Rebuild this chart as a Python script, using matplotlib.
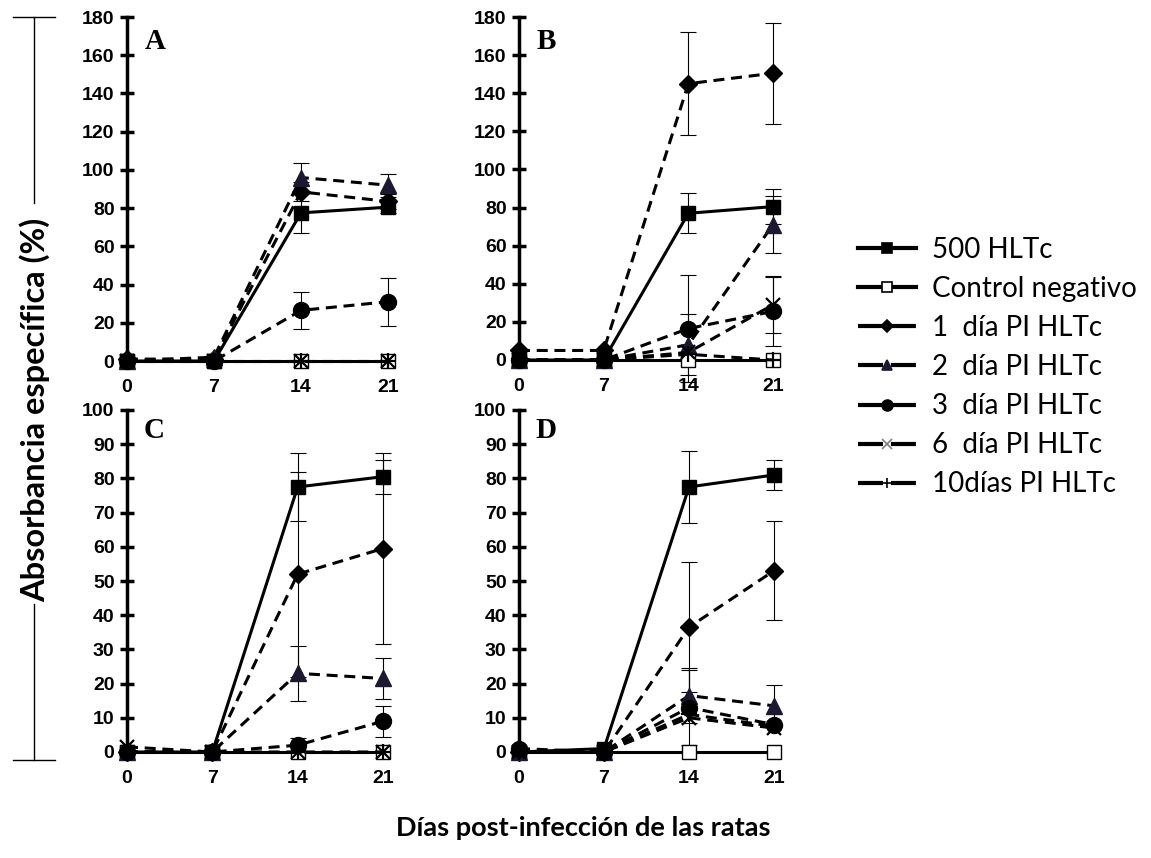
import numpy as np
import matplotlib
matplotlib.use("Agg")
import matplotlib.pyplot as plt
from matplotlib.lines import Line2D

# ---------------- data ----------------
days = [0, 7, 14, 21]
series_names = ["500 HLTc", "Control negativo", "1  día PI HLTc", "2  día PI HLTc",
                "3  día PI HLTc", "6  día PI HLTc", "10días PI HLTc"]

# Panel A
a_500 = [0, 0, 77.5, 80.5];   a_500_err = [0, 0, 10.5, 3]
a_ctrl = [0, 0, 0, 0];        a_ctrl_err = [0, 0, 0, 0]
a_d1 = [1, 1, 88.5, 83.5];    a_d1_err = [0, 0, 5, 4]
a_d2 = [0, 2, 96, 92];        a_d2_err = [0, 0, 7.5, 6]
a_d3 = [0, 0, 26.5, 31];      a_d3_err = [0, 0, 9.5, 12.5]
a_d6 = [0, 0, 0, 0];          a_d6_err = [0, 0, 0, 0]
a_d10 = [0, 0, 0, 0];         a_d10_err = [0, 0, 0, 0]

# Panel B
b_500 = [0, 0, 77, 80.5];     b_500_err = [0, 0, 10.5, 9]
b_ctrl = [0, 0, 0, 0];        b_ctrl_err = [0, 0, 0, 0]
b_d1 = [5, 5, 145, 150.5];    b_d1_err = [0, 0, 27, 26.5]
b_d2 = [0, 0, 8, 71];         b_d2_err = [0, 0, 16, 15]
b_d3 = [0, 0, 16.5, 25.5];    b_d3_err = [0, 0, 28, 18]
b_d6 = [0, 0, 4, 29];         b_d6_err = [0, 0, 0, 15]
b_d10 = [0, 0, 3, 0];         b_d10_err = [0, 0, 0, 0]

# Panel C
c_500 = [0, 0, 77.5, 80.5];   c_500_err = [0, 0, 10, 5]
c_ctrl = [0, 0, 0, 0];        c_ctrl_err = [0, 0, 0, 0]
c_d1 = [0, 0, 52, 59.5];      c_d1_err = [0, 0, 30, 28]
c_d2 = [0, 0, 23, 21.5];      c_d2_err = [0, 0, 8, 6]
c_d3 = [0, 0, 2, 9];          c_d3_err = [0, 0, 2, 4.5]
c_d6 = [1.5, 0, 0, 0];        c_d6_err = [0, 0, 0, 0]
c_d10 = [0, 0, 0, 0];         c_d10_err = [0, 0, 0, 0]

# Panel D
d_500 = [0, 1, 77.5, 81];     d_500_err = [0, 0, 10.5, 4.5]
d_ctrl = [0, 0, 0, 0];        d_ctrl_err = [0, 0, 0, 0]
d_d1 = [0, 0, 36.5, 53];      d_d1_err = [0, 0, 19, 14.5]
d_d2 = [0, 0, 16.5, 13.5];    d_d2_err = [0, 0, 8, 6]
d_d3 = [1, 0, 13, 8];         d_d3_err = [0, 0, 11, 0]
d_d6 = [0, 0, 10, 7];         d_d6_err = [0, 0, 0, 0]
d_d10 = [0, 0, 11, 7.5];      d_d10_err = [0, 0, 0, 0]

panel_letters = ["A", "B", "C", "D"]
yticks_top = list(range(0, 181, 20))
yticks_bottom = list(range(0, 101, 10))

# ---------------- styles ----------------
TRI = "#1c1830"
DASH = (0, (3.6, 2.2))
styles = [
    dict(ls="-", marker="s", mfc="black", mec="black", ms=10.5),
    dict(ls="-", marker="s", mfc="white", mec="black", ms=10.5),
    dict(ls=DASH, marker="D", mfc="black", mec="black", ms=9.5),
    dict(ls=DASH, marker="^", mfc=TRI, mec=TRI, ms=11.5),
    dict(ls=DASH, marker="o", mfc="black", mec="black", ms=11.5),
    dict(ls=DASH, marker="x", mfc="black", mec="black", ms=10),
    dict(ls=DASH, marker="+", mfc="black", mec="black", ms=11),
]

panels = [
    ([a_500, a_ctrl, a_d1, a_d2, a_d3, a_d6, a_d10],
     [a_500_err, a_ctrl_err, a_d1_err, a_d2_err, a_d3_err, a_d6_err, a_d10_err], 180, yticks_top),
    ([b_500, b_ctrl, b_d1, b_d2, b_d3, b_d6, b_d10],
     [b_500_err, b_ctrl_err, b_d1_err, b_d2_err, b_d3_err, b_d6_err, b_d10_err], 180, yticks_top),
    ([c_500, c_ctrl, c_d1, c_d2, c_d3, c_d6, c_d10],
     [c_500_err, c_ctrl_err, c_d1_err, c_d2_err, c_d3_err, c_d6_err, c_d10_err], 100, yticks_bottom),
    ([d_500, d_ctrl, d_d1, d_d2, d_d3, d_d6, d_d10],
     [d_500_err, d_ctrl_err, d_d1_err, d_d2_err, d_d3_err, d_d6_err, d_d10_err], 100, yticks_bottom),
]

W, H = 1151, 858
fig = plt.figure(figsize=(W / 100, H / 100), dpi=100)

def px_box(left, top, right21, bottom):
    width = (right21 - left) / 21 * 22.5
    return [left / W, (H - bottom) / H, width / W, (bottom - top) / H]

boxes = [px_box(127, 17, 388, 361), px_box(519, 17, 773, 360),
         px_box(127, 410, 383, 752), px_box(519, 410, 774, 752)]

tick_font = dict(family="Liberation Sans", weight="bold", size=14)

for (vals, errs, ymax, yt), box, letter in zip(panels, boxes, panel_letters):
    ax = fig.add_axes(box)
    x = np.array(days, dtype=float)
    for v, e, st in zip(vals, errs, styles):
        v = np.array(v, dtype=float)
        e = np.array(e, dtype=float)
        m = e > 0
        if m.any():
            ax.errorbar(x[m], v[m], yerr=e[m], fmt="none", ecolor="black",
                        elinewidth=0.8, capsize=6, capthick=0.8, zorder=2, clip_on=False)
        mew = 1.6 if st["marker"] in ("x", "+") else 1.0
        ax.plot(x, v, linestyle=st["ls"], color="black", lw=2.2,
                marker=st["marker"], markerfacecolor=st["mfc"], markeredgecolor=st["mec"],
                markersize=st["ms"], markeredgewidth=mew, clip_on=False, zorder=3)
    ax.set_xlim(0, 22.5)
    ax.set_ylim(0, ymax)
    ax.set_yticks(yt)
    ax.set_xticks(days)
    ax.set_xticklabels([str(d) for d in days], fontdict=tick_font)
    ax.set_yticklabels([str(t) for t in yt], fontdict=tick_font)
    for s in ("top", "right"):
        ax.spines[s].set_visible(False)
    ax.spines["left"].set_linewidth(2.5)
    ax.spines["bottom"].set_linewidth(2.0)
    ax.spines["bottom"].set_bounds(0, 21)
    ax.tick_params(axis="y", direction="inout", length=10, width=2.5, pad=4)
    ax.tick_params(axis="x", length=0, pad=13)
    ax.patch.set_alpha(0)
    ax.text(0.10, 0.93 if ymax == 180 else 0.94, letter, transform=ax.transAxes,
            ha="center", va="center", family="Liberation Serif", weight="bold", size=21)

# legend
handles = []
for name, st in zip(series_names, styles):
    mfc = st["mfc"]
    mec = st["mec"]
    if st["marker"] == "x":
        mfc = mec = "#7f7f7f"
    ls = "-" if st["ls"] == "-" else (0, (6, 1.9))
    handles.append(Line2D([], [], linestyle=ls, color="black", lw=3,
                          marker=st["marker"], markerfacecolor=mfc, markeredgecolor=mec,
                          markersize=st["ms"] * 0.68, markeredgewidth=1.2))
leg = fig.legend(handles, series_names, loc="upper left",
                 bbox_to_anchor=(858 / W, (H - 237) / H), frameon=False,
                 borderpad=0, borderaxespad=0, handlelength=2.1, handletextpad=0.55,
                 labelspacing=0.47, prop=dict(family="Lato", size=20))

# y label with bracket
fig.text(35 / W, (H - 602) / H, "Absorbancia específica (%)", rotation=90,
         ha="center", va="bottom", family="Lato", weight="bold", size=23.5)
for (x0, y0, x1, y1) in [(13, 17, 55, 17), (34, 17, 34, 203), (34, 604, 34, 760), (13, 760, 55, 760)]:
    fig.add_artist(Line2D([x0 / W, x1 / W], [(H - y0) / H, (H - y1) / H],
                          transform=fig.transFigure, color="black", lw=1.0))

fig.text(583 / W, (H - 828) / H, "Días post-infección de las ratas",
         ha="center", va="center", family="Lato", weight="bold", size=19.5)

fig.savefig("out.png", dpi=100)
